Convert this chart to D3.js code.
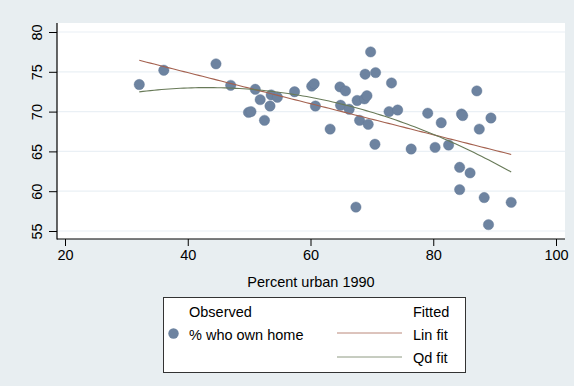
<!DOCTYPE html>
<html><head><meta charset="utf-8">
<script src="https://cdn.jsdelivr.net/npm/d3@7"></script>
<style>
html,body{margin:0;padding:0;background:#e8eef1;}
svg{display:block;font-family:"Liberation Sans",Arial,Helvetica,sans-serif;}
</style></head>
<body>
<svg id="c" width="574" height="386"></svg>
<script>
// Percent urban 1990 (x) and % who own home (y), one entry per state
const urban = [32.1,36.1,44.6,47.0,49.9,50.3,51.0,51.8,52.5,53.4,53.6,54.6,57.4,60.2,60.6,60.8,63.2,64.8,65.7,64.9,
  66.3,67.6,68.0,68.8,69.2,69.4,68.9,69.8,70.6,73.2,72.8,74.2,70.5,67.4,76.4,79.1,80.3,81.3,82.5,84.6,
  84.8,87.1,87.5,89.4,84.3,86.0,84.3,88.3,89.0,92.7];
const ownHome = [73.4,75.2,76.0,73.3,69.9,70.0,72.8,71.5,68.9,70.7,72.1,71.8,72.5,73.2,73.5,70.7,67.8,73.1,72.6,70.8,
  70.3,71.4,68.9,71.6,72.0,68.4,74.7,77.5,74.9,73.6,70.0,70.2,65.9,58.0,65.3,69.8,65.5,68.6,65.8,69.7,
  69.5,72.6,67.8,69.2,63.0,62.3,60.2,59.2,55.8,58.6];
const xTicks = [20,40,60,80,100];
const yTicks = [55,60,65,70,75,80];
const xTitle = "Percent urban 1990";
const legendLeft = ["Observed","% who own home"];
const legendRight = ["Fitted","Lin fit","Qd fit"];

const svg = d3.select("#c");
const W=574,H=386;
const P = {l:57, r:565, t:23, b:239};
const FS = 14.5;
const markerCol = "#6d83a0", linCol = "#a4614f", qdCol = "#687a58";

svg.append("rect").attr("width",W).attr("height",H).attr("fill","#e8eef1");
svg.append("rect").attr("x",P.l).attr("y",P.t).attr("width",P.r-P.l).attr("height",P.b-P.t).attr("fill","#fff");

const x = d3.scaleLinear().domain([20,100]).range([65,556]);
const y = d3.scaleLinear().domain([55,80]).range([231,32]);

// gridlines
svg.append("g").selectAll("line").data(yTicks).join("line")
  .attr("x1",P.l).attr("x2",P.r).attr("y1",d=>y(d)).attr("y2",d=>y(d))
  .attr("stroke","#eaf0f5").attr("stroke-width",1.2);

// fits (least squares, as in the original lfit / qfit)
const n = urban.length;
const mx = d3.mean(urban), my = d3.mean(ownHome);
let sxx=0,sxy=0; for(let i=0;i<n;i++){sxx+=(urban[i]-mx)**2; sxy+=(urban[i]-mx)*(ownHome[i]-my);}
const b1 = sxy/sxx, b0 = my-b1*mx;
let S=[0,0,0,0,0], T=[0,0,0];
for(let i=0;i<n;i++){const xi=urban[i], yi=ownHome[i]; for(let k=0;k<5;k++) S[k]+=xi**k; for(let k=0;k<3;k++) T[k]+=yi*xi**k;}
function solve3(A,b){
  A=A.map((r,i)=>r.concat([b[i]]));
  for(let c=0;c<3;c++){let p=c;for(let r=c+1;r<3;r++) if(Math.abs(A[r][c])>Math.abs(A[p][c])) p=r;
    [A[c],A[p]]=[A[p],A[c]];
    for(let r=0;r<3;r++){ if(r===c) continue; const f=A[r][c]/A[c][c]; for(let k=c;k<4;k++) A[r][k]-=f*A[c][k]; }}
  return [A[0][3]/A[0][0],A[1][3]/A[1][1],A[2][3]/A[2][2]];
}
const q = solve3([[S[0],S[1],S[2]],[S[1],S[2],S[3]],[S[2],S[3],S[4]]],T);
const [xmin,xmax] = d3.extent(urban);
const xs = d3.range(0,101).map(i=>xmin+(xmax-xmin)*i/100);
const line = d3.line().x(d=>x(d[0])).y(d=>y(d[1]));

// points
svg.append("g").selectAll("circle").data(urban).join("circle")
  .attr("cx",(d)=>x(d)).attr("cy",(d,i)=>y(ownHome[i])).attr("r",5.2)
  .attr("fill",markerCol).attr("stroke","#5f7694").attr("stroke-width",0.4);

svg.append("path").attr("d",line(xs.map(v=>[v,b0+b1*v]))).attr("fill","none").attr("stroke",linCol).attr("stroke-width",1.1);
svg.append("path").attr("d",line(xs.map(v=>[v,q[0]+q[1]*v+q[2]*v*v]))).attr("fill","none").attr("stroke",qdCol).attr("stroke-width",1.1);

// axes
const gy = svg.append("g").attr("transform",`translate(${P.l},0)`)
  .call(d3.axisLeft(y).tickValues(yTicks).tickSize(8).tickSizeOuter(0));
gy.select(".domain").remove();
gy.selectAll("text").attr("transform","rotate(-90)").attr("x",0).attr("y",-15).attr("dy",0)
  .attr("text-anchor","middle").style("font-size",FS+"px").attr("fill","#000").style("font-family","inherit");
const gx = svg.append("g").attr("transform",`translate(0,${P.b})`)
  .call(d3.axisBottom(x).tickValues(xTicks).tickSize(7).tickSizeOuter(0));
gx.select(".domain").remove();
gx.selectAll("text").attr("y",11).style("font-size",FS+"px").attr("fill","#000").style("font-family","inherit");
svg.selectAll(".tick line").attr("stroke","#000");
svg.append("line").attr("x1",P.l).attr("x2",P.l).attr("y1",P.t).attr("y2",P.b+0.5).attr("stroke","#000").attr("stroke-width",1.2);
svg.append("line").attr("x1",P.l).attr("x2",P.r).attr("y1",P.b).attr("y2",P.b).attr("stroke","#000").attr("stroke-width",1.2);

svg.append("text").attr("x",(P.l+P.r)/2).attr("y",287).attr("text-anchor","middle")
  .style("font-size",FS+"px").text(xTitle);

// legend
const L = svg.append("g");
L.append("rect").attr("x",163.5).attr("y",297.5).attr("width",302).attr("height",75)
  .attr("fill","#fff").attr("stroke","#333").attr("stroke-width",1);
L.append("text").attr("x",189).attr("y",316.5).style("font-size",FS+"px").text(legendLeft[0]);
L.append("text").attr("x",189).attr("y",339.5).style("font-size",FS+"px").text(legendLeft[1]);
L.append("circle").attr("cx",173.5).attr("cy",333.5).attr("r",5.2).attr("fill",markerCol);
L.append("text").attr("x",413).attr("y",316.5).style("font-size",FS+"px").text(legendRight[0]);
L.append("text").attr("x",413).attr("y",339.5).style("font-size",FS+"px").text(legendRight[1]);
L.append("text").attr("x",413).attr("y",362.5).style("font-size",FS+"px").text(legendRight[2]);
L.append("line").attr("x1",337).attr("x2",402).attr("y1",333).attr("y2",333).attr("stroke",linCol).attr("stroke-width",1).attr("stroke-opacity",0.75);
L.append("line").attr("x1",337).attr("x2",402).attr("y1",357).attr("y2",357).attr("stroke",qdCol).attr("stroke-width",1).attr("stroke-opacity",0.75);
</script>
</body></html>
